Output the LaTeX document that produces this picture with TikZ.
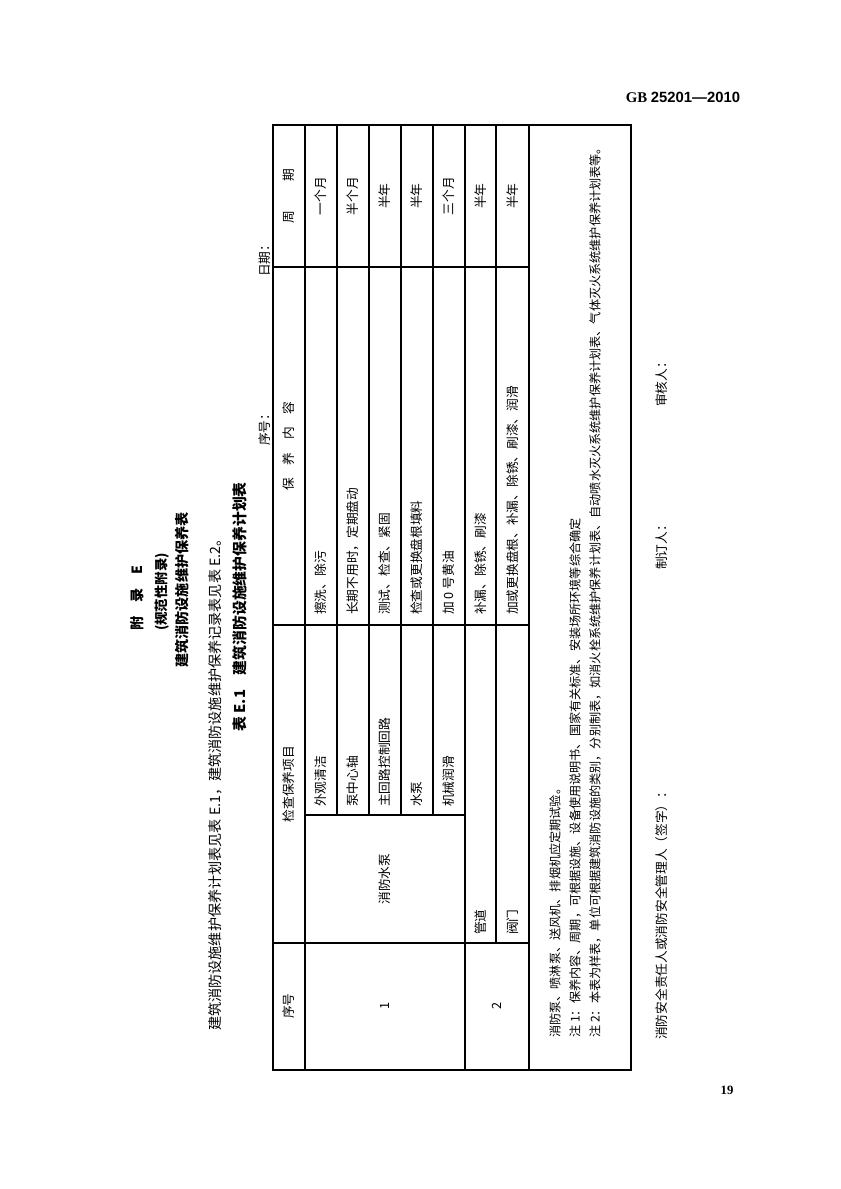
\documentclass[tikz,border=0pt]{standalone}
\usepackage{fontspec}
\setmainfont{Liberation Serif}
\setsansfont{Liberation Sans}
\newfontfamily\cjk{Noto Sans CJK SC}

\begin{document}
\begin{tikzpicture}[x=0.7083pt,y=-0.7083pt,
  vtext/.style={rotate=90,inner sep=0pt,font=\cjk\fontsize{9}{10}\selectfont},
  vleft/.style={vtext,anchor=west},
  vnote/.style={vleft,font=\cjk\fontsize{8.6}{10}\selectfont},
  vtitle/.style={vtext,font=\cjk\bfseries\fontsize{10}{12}\selectfont},
  rule/.style={line width=0.9pt},
  frame/.style={line width=1.4pt}]

\fill[white] (0,0) rectangle (840,1189);
\useasboundingbox (0,0) rectangle (840,1189);

%%%%%%%%%%%%%%%%%%%%%% PAGE HEAD

\node[anchor=east,font=\bfseries\fontsize{10.5}{12}\selectfont] (gb) at (745,97) {{\rmfamily GB}\ {\sffamily 25201—2010}};

\node[vtitle] (fl) at (137,598) {附\quad 录\quad E};
\node[vtitle,font=\cjk\bfseries\fontsize{9.5}{11}\selectfont] (gf) at (162,592) {(规范性附录)};
\node[vtitle] (bt) at (182,590) {建筑消防设施维护保养表};
\node[vleft,font=\cjk\fontsize{10}{12}\selectfont] (zw) at (215,1031) {建筑消防设施维护保养计划表见表 E.1，建筑消防设施维护保养记录表见表 E.2。};
\node[vtitle,font=\cjk\bfseries\fontsize{10.5}{12}\selectfont] (bm) at (240,607) {表 E.1\quad 建筑消防设施维护保养计划表};
\node[vleft] (xhl) at (265,446) {序号：};
\node[vleft] (rq) at (265,277) {日期：};

%%%%%%%%%%%%%%%%%%%%%% TABLE

\draw[frame] (273,125) rectangle (631,1070);
\foreach \x in {305,465,529} \draw[rule] (\x,125) -- (\x,1070);
\foreach \x in {337,369,401,433} \draw[rule] (\x,125) -- (\x,815);
\draw[rule] (496,125) -- (496,943);
\foreach \y in {267,625,943} \draw[rule] (273,\y) -- (529,\y);
\draw[rule] (305,815) -- (465,815);

\node[vtext] (hzq) at (289,196) {周\hspace{2.3em}期};
\node[vtext] (hnr) at (289,446) {保\quad 养\quad 内\quad 容};
\node[vtext] (hxm) at (289,784) {检查保养项目};
\node[vtext] (hxh) at (289,1006) {序号};

\foreach \t [count=\i] in {一个月,半个月,半年,半年,三个月,半年,半年}
  \node[vtext] (zq\i) at ({289+32*\i},196) {\t};
\foreach \t [count=\i] in {擦洗、除污,长期不用时，定期盘动,测试、检查、紧固,检查或更换盘根填料,加 0 号黄油,补漏、除锈、刷漆,加或更换盘根、补漏、除锈、刷漆、润滑}
  \node[vleft] (nr\i) at ({289+32*\i},615) {\t};
\foreach \t [count=\i] in {外观清洁,泵中心轴,主回路控制回路,水泵,机械润滑}
  \node[vleft] (xm\i) at ({289+32*\i},807) {\t};

\node[vtext] (sb) at (385,879) {消防水泵};
\node[vleft] (gd) at (481,935) {管道};
\node[vleft] (fm) at (513,935) {阀门};
\node[vtext] (xh1) at (385,1006) {1};
\node[vtext] (xh2) at (497,1006) {2};

% notes
\node[vnote] (zs0) at (555,1038) {消防泵、喷淋泵、送风机、排烟机应定期试验。};
\node[vnote] (zs1) at (575,1038) {注 1：保养内容、周期，可根据设施、设备使用说明书、国家有关标准、安装场所环境等综合确定};
\node[vnote] (zs2) at (595,1038) {注 2：本表为样表，单位可根据建筑消防设施的类别，分别制表，如消火栓系统维护保养计划表、自动喷水灭火系统维护保养计划表、气体灭火系统维护保养计划表等。};

%%%%%%%%%%%%%%%%%%%%%% SIGNATURES

\node[vleft] (shr) at (662,407) {审核人：};
\node[vleft] (zdr) at (662,570) {制订人：};
\node[vleft] (qz) at (662,1040) {消防安全责任人或消防安全管理人（签字）：};

\node[font=\bfseries\fontsize{9}{11}\selectfont] (ym) at (727,1090) {19};

\end{tikzpicture}
\end{document}
